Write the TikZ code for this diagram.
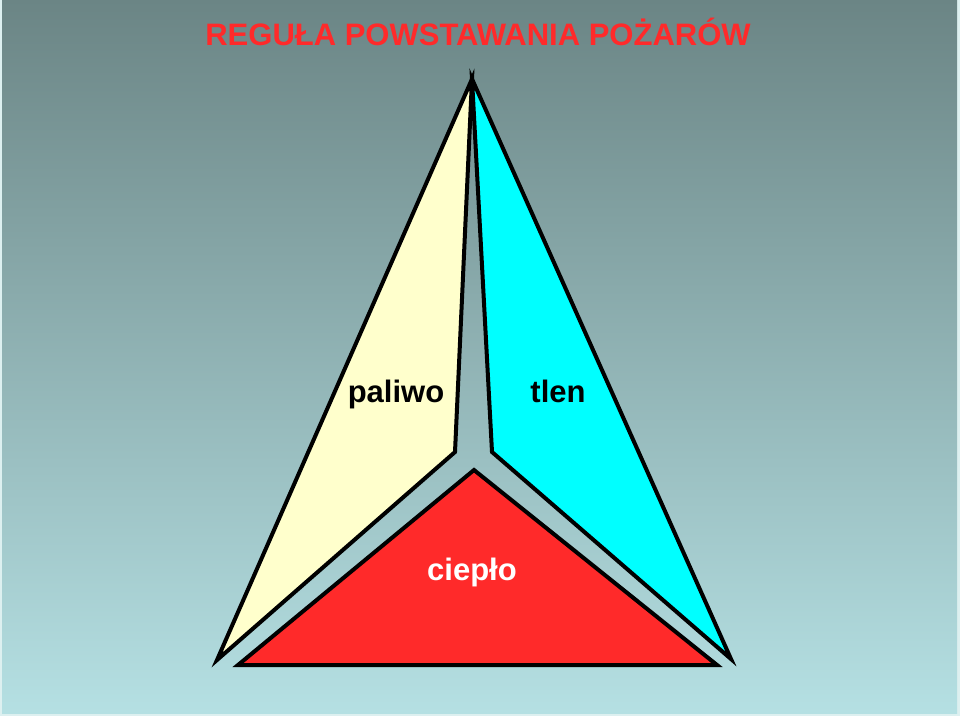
\documentclass[tikz,border=0pt]{standalone}
\usepackage{fontspec}
\setmainfont{Liberation Sans}
\usetikzlibrary{positioning}
\definecolor{bgtop}{HTML}{6B8585}
\definecolor{bgbottom}{HTML}{B5E0E3}
\definecolor{bgedge}{HTML}{DDF0F0}
\definecolor{firered}{HTML}{FF2A2A}
\definecolor{fuelcream}{HTML}{FFFFCC}
\definecolor{oxycyan}{HTML}{00FFFF}
\begin{document}
\begin{tikzpicture}[x=1pt, y=-1pt, align=center]

\tikzstyle{piece} = [draw=black, line width=4pt, line join=miter]
\tikzstyle{label} = [anchor=base, font=\fontsize{31}{36}\selectfont\bfseries]

% background
\fill [bgedge] (0,0) rectangle (960,716);
\shade [top color=bgtop, bottom color=bgbottom] (2,0) rectangle (957,713);
\useasboundingbox (0,0) rectangle (960,716);

\node (title) [label, text=firered] at (478,45) {REGUŁA POWSTAWANIA POŻARÓW};

\coordinate (apex) at (472,79);
\coordinate (fuelin) at (455,452);
\coordinate (fueltip) at (217,660);
\coordinate (oxyin) at (492,452);
\coordinate (oxytip) at (731,659);
\coordinate (heattop) at (474,470);
\coordinate (heatleft) at (238,665);
\coordinate (heatright) at (717,665);

\draw [piece, fill=fuelcream] (apex) -- (fuelin) -- (fueltip) -- cycle;
\draw [piece, fill=oxycyan] (apex) -- (oxyin) -- (oxytip) -- cycle;
\draw [piece, fill=firered] (heattop) -- (heatright) -- (heatleft) -- cycle;

\node (paliwo) [label] at (396,402) {paliwo};
\node (tlen) [label] at (558,402) {tlen};
\node (cieplo) [label, text=white] at (472,580) {ciepło};
\end{tikzpicture}
\end{document}
